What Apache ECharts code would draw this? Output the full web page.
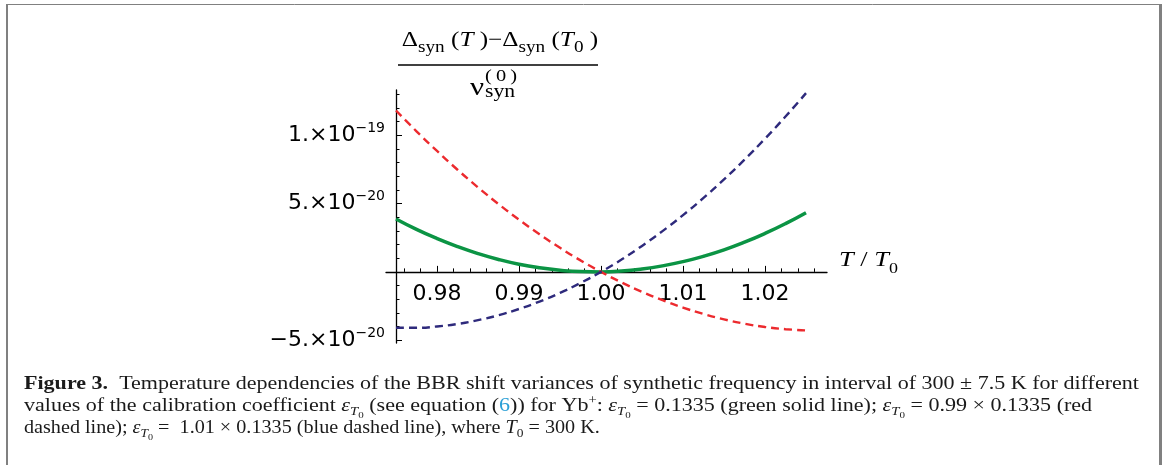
<!DOCTYPE html>
<html>
<head>
<meta charset="utf-8">
<script src="https://cdn.jsdelivr.net/npm/echarts@6/dist/echarts.min.js"></script>
<style>
html, body { margin: 0; padding: 0; background: #fff; }
#chart { width: 1165px; height: 465px; }
</style>
</head>
<body>
<div id="chart"></div>
<script>
// T / T0
var tValues = [0.975, 0.9775, 0.98, 0.9825, 0.985, 0.9875, 0.99, 0.9925, 0.995, 0.9975,
  1.0, 1.0025, 1.005, 1.0075, 1.01, 1.0125, 1.015, 1.0175, 1.02, 1.0225, 1.025];
// values in units of 1e-20
var greenValues = [3.87, 3.11, 2.44, 1.85, 1.34, 0.91, 0.56, 0.30, 0.12, 0.02,
  0, 0.06, 0.21, 0.44, 0.75, 1.14, 1.61, 2.17, 2.81, 3.53, 4.33];
var redValues = [11.80, 10.28, 8.84, 7.47, 6.18, 4.96, 3.82, 2.75, 1.76, 0.84,
  0, -0.77, -1.46, -2.07, -2.61, -3.08, -3.47, -3.79, -4.03, -4.19, -4.28];
var blueValues = [-4.09, -4.09, -3.99, -3.81, -3.53, -3.17, -2.71, -2.17, -1.54, -0.81,
  0, 0.90, 1.90, 2.98, 4.15, 5.41, 6.76, 8.21, 9.74, 11.36, 13.07];

// ticks
var xMajorTicks = [0.98, 0.99, 1.00, 1.01, 1.02];
var xMinorTicks = [0.976, 0.978, 0.982, 0.984, 0.986, 0.988, 0.992, 0.994, 0.996, 0.998,
  1.002, 1.004, 1.006, 1.008, 1.012, 1.014, 1.016, 1.018, 1.022, 1.024, 1.026];
var xTickLabels = ['0.98', '0.99', '1.00', '1.01', '1.02'];
var yMajorTicks = [-5, 0, 5, 10];
var yMinorTicks = [-4, -3, -2, -1, 1, 2, 3, 4, 6, 7, 8, 9, 11, 12, 13];
var yLabelTicks = [-5, 5, 10];
var yLabelMantissa = ['\u22125.', '5.', '1.'];
var yLabelExponent = ['\u221220', '\u221220', '\u221219'];

function pairs(ys) {
  return tValues.map(function (t, i) { return [t, ys[i]]; });
}

var serif = '"Liberation Serif", "DejaVu Serif", serif';
var sans = '"DejaVu Sans", sans-serif';

var chart = echarts.init(document.getElementById('chart'));

var xMin = 0.97378, xMax = 1.02756;
var yMin = -5.2, yMax = 13.3;
// pixel height of plot area and where y = 0 falls (for the axis grid)
var plotTop = 90, plotBottom = 122, plotH = 465 - plotTop - plotBottom;
var zeroY = plotTop + plotH * yMax / (yMax - yMin);

function capRich() {
  var base = { fontFamily: serif, fontSize: 18, lineHeight: 18, verticalAlign: 'bottom', fill: '#1a1a1a' };
  function mk(extra) { return Object.assign({}, base, extra); }
  return {
    n: mk({ padding: [0, 0, 6, 0] }),
    b: mk({ fontWeight: 'bold', padding: [0, 0, 6, 0] }),
    it: mk({ fontStyle: 'italic', padding: [0, 0, 6, 0] }),
    lk: mk({ fill: '#2a9fd6', padding: [0, 0, 6, 0] }),
    sub: mk({ fontSize: 12, lineHeight: 12, fontStyle: 'italic', padding: [0, 0, 3, 0] }),
    ss: mk({ fontSize: 9, lineHeight: 9, padding: [0, 0, 1, 0] }),
    s0: mk({ fontSize: 12, lineHeight: 12, padding: [0, 0, 3, 0] }),
    sup: mk({ fontSize: 12, lineHeight: 12, padding: [0, 0, 14, 0] })
  };
}
var eps = '{it|\u03b5}{sub|T}{ss|0}';

var option = {
  animation: false,
  grid: [
    { left: 386, right: 338, top: plotTop, bottom: plotBottom },
    { left: 386, right: 338, top: plotTop, bottom: 465 - zeroY }
  ],
  xAxis: [{
    // data axis of the plot
    type: 'value', gridIndex: 0, min: xMin, max: xMax, show: false
  }, {
    // visible axis along y = 0
    type: 'value', gridIndex: 1, min: xMin, max: xMax, position: 'bottom',
    axisLine: { onZero: false, lineStyle: { color: '#000', width: 1.3 } },
    axisTick: { inside: true, length: 6, customValues: xMajorTicks, lineStyle: { color: '#000', width: 1 } },
    axisLabel: {
      customValues: xMajorTicks, margin: 11, color: '#000', fontFamily: sans, fontSize: 22,
      formatter: function (v) {
        var i = xMajorTicks.findIndex(function (m) { return Math.abs(m - v) < 1e-6; });
        return i >= 0 ? xTickLabels[i] : '';
      }
    },
    splitLine: { show: false }
  }, {
    type: 'value', gridIndex: 1, min: xMin, max: xMax, position: 'bottom',
    axisLine: { show: false, onZero: false },
    axisTick: { inside: true, length: 3.5, customValues: xMinorTicks, lineStyle: { color: '#000', width: 1 } },
    axisLabel: { show: false },
    splitLine: { show: false }
  }],
  yAxis: [{
    type: 'value', gridIndex: 0, min: yMin, max: yMax, offset: -10,
    axisLine: { show: true, onZero: false, lineStyle: { color: '#000', width: 1.3 } },
    axisTick: { show: true, inside: true, length: 6, customValues: yMajorTicks, lineStyle: { color: '#000', width: 1 } },
    axisLabel: {
      customValues: yLabelTicks, margin: 11, color: '#000',
      formatter: function (v) {
        var i = yLabelTicks.indexOf(Math.round(v));
        if (i < 0) return '';
        return '{m|' + yLabelMantissa[i] + '\u00d710}{s|' + yLabelExponent[i] + '}';
      },
      rich: {
        m: { fontFamily: sans, fontSize: 22, lineHeight: 22, color: '#000', verticalAlign: 'bottom', padding: [6, 0, 0, 0] },
        s: { fontFamily: sans, fontSize: 14, lineHeight: 14, color: '#000', verticalAlign: 'bottom', padding: [0, 0, 11, 0] }
      }
    },
    splitLine: { show: false }
  }, {
    type: 'value', gridIndex: 0, min: yMin, max: yMax, offset: -10, position: 'left',
    axisLine: { show: false, onZero: false },
    axisTick: { show: true, inside: true, length: 3.5, customValues: yMinorTicks, lineStyle: { color: '#000', width: 1 } },
    axisLabel: { show: false },
    splitLine: { show: false }
  }, {
    type: 'value', gridIndex: 1, min: 0, max: 1, show: false
  }],
  series: [{
    type: 'line', xAxisIndex: 0, yAxisIndex: 0, data: pairs(greenValues), smooth: true, showSymbol: false,
    lineStyle: { color: '#0b9444', width: 3.5 }, z: 3
  }, {
    type: 'line', xAxisIndex: 0, yAxisIndex: 0, data: pairs(redValues), smooth: true, showSymbol: false,
    lineStyle: { color: '#ec2a2e', width: 2.4, type: [8, 5] }, z: 4
  }, {
    type: 'line', xAxisIndex: 0, yAxisIndex: 0, data: pairs(blueValues), smooth: true, showSymbol: false,
    lineStyle: { color: '#2e2a7c', width: 2.4, type: [8, 5] }, z: 5
  }],
  graphic: [
    // frame
    { type: 'line', shape: { x1: 6, y1: 4.5, x2: 1161, y2: 4.5 }, style: { stroke: '#808080', lineWidth: 1 } },
    { type: 'line', shape: { x1: 7, y1: 4, x2: 7, y2: 465 }, style: { stroke: '#808080', lineWidth: 2 } },
    { type: 'line', shape: { x1: 1160.5, y1: 4, x2: 1160.5, y2: 465 }, style: { stroke: '#808080', lineWidth: 3 } },
    // y axis name as fraction
    {
      type: 'text', x: 500, y: 46, scaleX: 1.2,
      style: {
        text: '{m|\u0394}{sb|syn}{m| (}{it|T}{m| )\u2212\u0394}{sb|syn}{m| (}{it|T}{sb|0}{m| )}',
        align: 'center', verticalAlign: 'middle',
        rich: {
          m: { fontFamily: serif, fontSize: 21, lineHeight: 21, verticalAlign: 'bottom', padding: [0, 0, 6, 0], fill: '#000' },
          it: { fontFamily: serif, fontStyle: 'italic', fontSize: 21, lineHeight: 21, verticalAlign: 'bottom', padding: [0, 0, 6, 0], fill: '#000' },
          sb: { fontFamily: serif, fontSize: 16, lineHeight: 16, verticalAlign: 'bottom', padding: [0, 0, 1, 0], fill: '#000' }
        }
      }
    },
    { type: 'line', shape: { x1: 398, y1: 65, x2: 598, y2: 65 }, style: { stroke: '#000', lineWidth: 1.5 } },
    { type: 'text', x: 470, y: 88, scaleX: 1.2, style: { text: '\u03bd', fontFamily: serif, fontSize: 26, fill: '#000', align: 'left', verticalAlign: 'middle' } },
    { type: 'text', x: 485, y: 77, scaleX: 1.2, style: { text: '(\u20090\u2009)', fontFamily: serif, fontSize: 17, fill: '#000', align: 'left', verticalAlign: 'middle' } },
    { type: 'text', x: 485, y: 92, scaleX: 1.2, style: { text: 'syn', fontFamily: serif, fontSize: 18, fill: '#000', align: 'left', verticalAlign: 'middle' } },
    // x axis name
    {
      type: 'text', x: 839, y: 266, scaleX: 1.2,
      style: {
        text: '{it|T}{m| / }{it|T}{sb|0}', align: 'left', verticalAlign: 'middle',
        rich: {
          m: { fontFamily: serif, fontSize: 22, lineHeight: 22, verticalAlign: 'bottom', padding: [0, 0, 6, 0], fill: '#000' },
          it: { fontFamily: serif, fontStyle: 'italic', fontSize: 22, lineHeight: 22, verticalAlign: 'bottom', padding: [0, 0, 6, 0], fill: '#000' },
          sb: { fontFamily: serif, fontSize: 15, lineHeight: 15, verticalAlign: 'bottom', padding: [0, 0, 0, 0], fill: '#000' }
        }
      }
    },
    // caption
    {
      type: 'text', x: 24, y: 390, scaleX: 1.225,
      style: {
        text: '{b|Figure 3.}{n|  Temperature dependencies of the BBR shift variances of synthetic frequency in interval of 300 \u00b1 7.5 K for different}',
        align: 'left', verticalAlign: 'middle', rich: capRich()
      }
    },
    {
      type: 'text', x: 24, y: 412, scaleX: 1.225,
      style: {
        text: '{n|values of the calibration coefficient }' + eps + '{n| (see equation (}{lk|6}{n|)) for Yb}{sup|+}{n|: }' + eps +
          '{n| = 0.1335 (green solid line); }' + eps + '{n| = 0.99 \u00d7 0.1335 (red}',
        align: 'left', verticalAlign: 'middle', rich: capRich()
      }
    },
    {
      type: 'text', x: 24, y: 434, scaleX: 1.12,
      style: {
        text: '{n|dashed line); }' + eps + '{n| =  1.01 \u00d7 0.1335 (blue dashed line), where }{it|T}{s0|0}{n| = 300 K.}',
        align: 'left', verticalAlign: 'middle', rich: capRich()
      }
    }
  ]
};

chart.setOption(option);
</script>
</body>
</html>
